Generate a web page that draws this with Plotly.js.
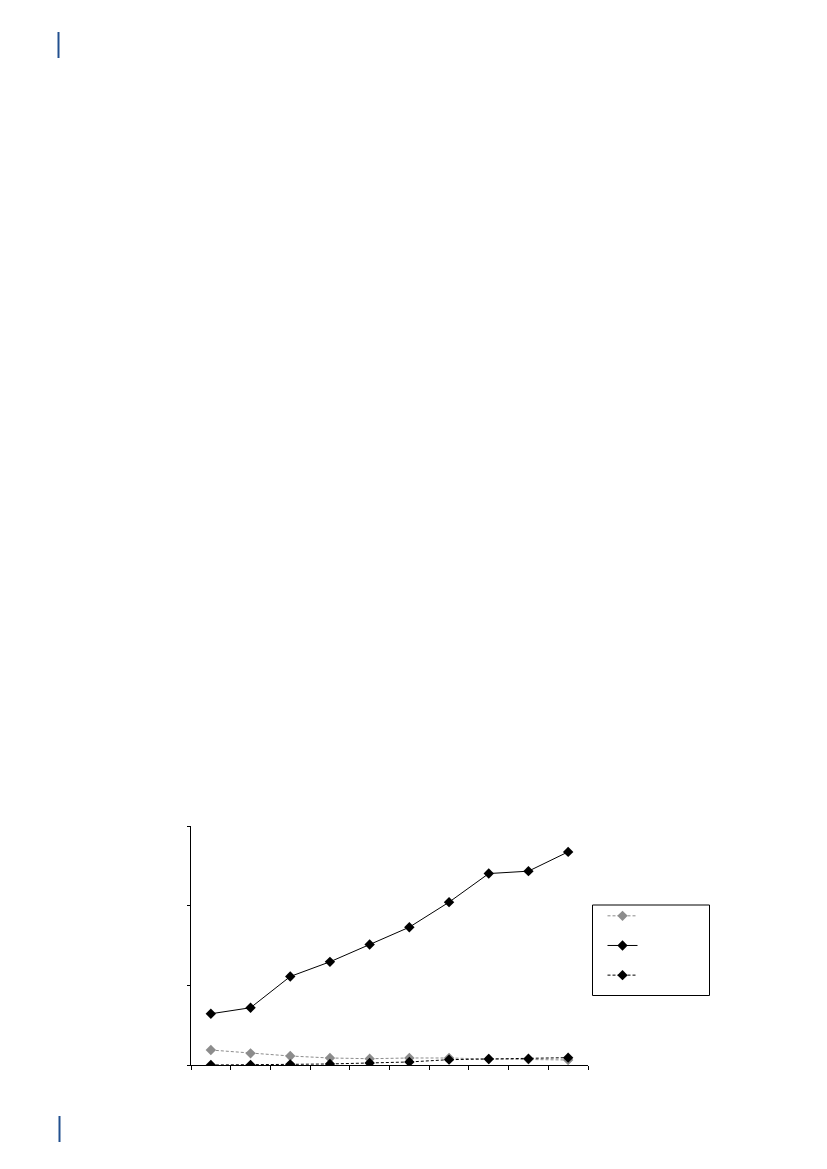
<!DOCTYPE html>
<html>
<head>
<meta charset="utf-8">
<script src="https://cdn.plot.ly/plotly-3.0.1.min.js"></script>
<style>html,body{margin:0;padding:0;background:#fff;}#chart{width:827px;height:1169px;}</style>
</head>
<body>
<div id="chart"></div>
<script>
var categories = ["1","2","3","4","5","6","7","8","9","10"];
var seriesGray = [18.8, 14.6, 11.3, 8.8, 7.9, 8.8, 8.8, 7.5, 7.1, 6.3];
var seriesSolid = [64.3, 71.9, 111.1, 129.5, 151.2, 173.0, 204.4, 240.3, 243.3, 267.5];
var seriesDashed = [0, 0, 0.8, 1.3, 2.5, 3.8, 6.7, 7.5, 7.9, 9.2];
var seriesNames = ["\u00a0", "\u00a0", "\u00a0"];

var W = 827, H = 1169;
var L = 191, R = 588, T = 826, B = 1065;
function px(x){ return (x - L) / (R - L); }
function py(y){ return (B - y) / (B - T); }

var traces = [
  {x: categories, y: seriesGray, name: seriesNames[0], type: 'scatter', mode: 'lines+markers',
   line: {color: '#8c8c8c', width: 1, dash: '3px,2px'}, marker: {symbol: 'diamond', size: 8, color: '#8c8c8c'}},
  {x: categories, y: seriesSolid, name: seriesNames[1], type: 'scatter', mode: 'lines+markers',
   line: {color: '#000', width: 1}, marker: {symbol: 'diamond', size: 8, color: '#000'}},
  {x: categories, y: seriesDashed, name: seriesNames[2], type: 'scatter', mode: 'lines+markers',
   line: {color: '#000', width: 1, dash: '3px,2px'}, marker: {symbol: 'diamond', size: 8, color: '#000'}}
];

var layout = {
  width: W, height: H,
  margin: {l: L, r: W - R, t: T, b: H - B, pad: 0},
  paper_bgcolor: '#fff', plot_bgcolor: 'rgba(0,0,0,0)',
  showlegend: true,
  legend: {x: px(602.5), y: py(896), xanchor: 'left', yanchor: 'top',
           font: {size: 20.5, color: '#000', family: 'Liberation Sans'},
           bgcolor: 'rgba(0,0,0,0)', borderwidth: 0, itemsizing: 'trace'},
  xaxis: {type: 'category', range: [-0.5, 9.5], tickson: 'boundaries', showticklabels: false,
          ticks: 'outside', ticklen: 4, tickcolor: '#000', tickwidth: 1,
          showline: true, linecolor: '#000', linewidth: 1, showgrid: false, zeroline: false, fixedrange: true},
  yaxis: {range: [0, 300], dtick: 100, tick0: 0, showticklabels: false,
          ticks: 'outside', ticklen: 3, tickcolor: '#000', tickwidth: 1,
          showline: true, linecolor: '#000', linewidth: 1, showgrid: false, zeroline: false, fixedrange: true},
  shapes: [
    {type: 'rect', xref: 'paper', yref: 'paper', x0: px(592.5), x1: px(709.5), y0: py(995.5), y1: py(905),
     line: {color: '#000', width: 1}, fillcolor: 'rgba(0,0,0,0)'},
    {type: 'line', xref: 'paper', yref: 'paper', x0: px(58.5), x1: px(58.5), y0: py(32), y1: py(58),
     line: {color: '#22508f', width: 2}},
    {type: 'line', xref: 'paper', yref: 'paper', x0: px(59.5), x1: px(59.5), y0: py(1116), y1: py(1142),
     line: {color: '#22508f', width: 2}}
  ]
};

Plotly.newPlot('chart', traces, layout, {displayModeBar: false, staticPlot: true});
</script>
</body>
</html>
